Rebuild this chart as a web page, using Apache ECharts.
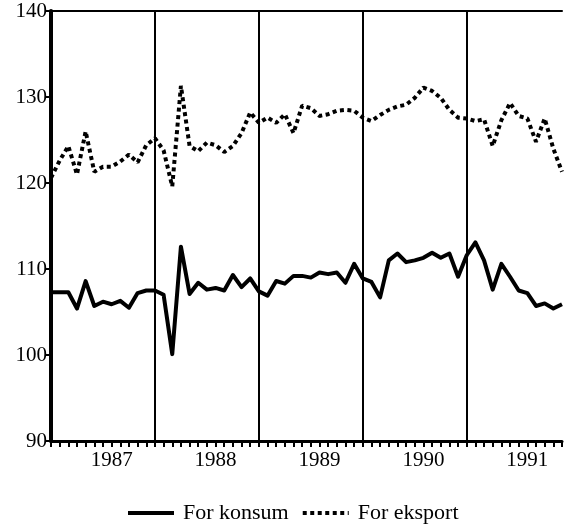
<!DOCTYPE html>
<html>
<head>
<meta charset="utf-8">
<script src="https://cdn.jsdelivr.net/npm/echarts@6/dist/echarts.min.js"></script>
<style>
html,body{margin:0;padding:0;background:#fff;}
#c{width:565px;height:526px;}
</style>
</head>
<body>
<div id="c"></div>
<script>
var years = ['1987','1988','1989','1990','1991'];
var months = ['01','02','03','04','05','06','07','08','09','10','11','12'];
var seriesNames = ['For konsum', 'For eksport'];
var yTicks = [90, 100, 110, 120, 130, 140];

var konsum = [
  107.3, 107.3, 107.3, 105.4, 108.6, 105.7, 106.2, 105.9, 106.3, 105.5, 107.2, 107.5,
  107.5, 107.0, 100.1, 112.6, 107.1, 108.4, 107.6, 107.8, 107.5, 109.3, 107.9, 108.9,
  107.4, 106.9, 108.6, 108.3, 109.2, 109.2, 109.0, 109.6, 109.4, 109.6, 108.4, 110.6,
  108.9, 108.5, 106.7, 111.0, 111.8, 110.8, 111.0, 111.3, 111.9, 111.3, 111.8, 109.1,
  111.6, 113.1, 111.0, 107.6, 110.6, 109.1, 107.5, 107.2, 105.7, 106.0, 105.4, 105.9
];
var eksport = [
  120.6, 122.6, 124.3, 121.0, 126.0, 121.3, 121.9, 121.9, 122.5, 123.3, 122.4, 124.4,
  125.2, 123.8, 119.6, 131.3, 124.3, 123.7, 124.7, 124.4, 123.6, 124.3, 125.8, 128.2,
  127.0, 127.6, 127.0, 128.0, 125.8, 129.0, 128.7, 127.8, 128.0, 128.4, 128.5, 128.4,
  127.6, 127.2, 127.9, 128.5, 128.9, 129.1, 129.9, 131.1, 130.7, 129.9, 128.5, 127.6,
  127.5, 127.2, 127.4, 124.3, 127.3, 129.3, 127.8, 127.5, 124.8, 127.5, 124.0, 121.3
];

var categories = [];
years.forEach(function(y){ months.forEach(function(m){ categories.push(y + '-' + m); }); });

var serif = '"Liberation Serif", "DejaVu Serif", serif';
var chart = echarts.init(document.getElementById('c'), null, {renderer: 'canvas'});
chart.setOption({
  animation: false,
  backgroundColor: '#fff',
  grid: {left: 51, right: 1, top: 11, bottom: 85, containLabel: false},
  legend: {
    left: 121, top: 497,
    itemWidth: 46, itemHeight: 14, itemGap: 12,
    itemStyle: {opacity: 0},
    lineStyle: {width: 4},
    textStyle: {fontFamily: serif, fontSize: 22, color: '#000', padding: [0,0,0,4]},
    data: seriesNames
  },
  xAxis: [{
    type: 'category',
    data: categories,
    boundaryGap: false,
    axisLine: {lineStyle: {color: '#000', width: 3}},
    axisTick: {show: true, interval: 0, length: 6, lineStyle: {color: '#000', width: 2}},
    axisLabel: {
      interval: 0, margin: 9, color: '#000', fontFamily: serif, fontSize: 21,
      formatter: function(v){ return v.slice(5) === '08' ? v.slice(0,4) : ''; }
    },
    splitLine: {
      show: true,
      interval: function(i){ return i > 0 && i % 12 === 0; },
      lineStyle: {color: '#000', width: 2}
    }
  }, {
    type: 'category',
    data: categories,
    position: 'top',
    boundaryGap: false,
    axisLine: {lineStyle: {color: '#000', width: 2}},
    axisTick: {show: false},
    axisLabel: {show: false},
    splitLine: {show: false}
  }],
  yAxis: {
    type: 'value',
    min: yTicks[0], max: yTicks[yTicks.length-1], interval: 10,
    axisLine: {show: true, lineStyle: {color: '#000', width: 4}},
    axisTick: {show: true, length: 5, lineStyle: {color: '#000', width: 2}},
    axisLabel: {color: '#000', fontFamily: serif, fontSize: 21, margin: 4},
    splitLine: {show: false}
  },
  series: [{
    name: seriesNames[0],
    type: 'line',
    data: konsum,
    symbol: 'none',
    lineStyle: {color: '#000', width: 4, join: 'round'},
    itemStyle: {color: '#000'}
  }, {
    name: seriesNames[1],
    type: 'line',
    data: eksport,
    symbol: 'none',
    lineStyle: {color: '#000', width: 4, type: [4, 3.5], cap: 'butt'},
    itemStyle: {color: '#000'}
  }]
});
</script>
</body>
</html>
